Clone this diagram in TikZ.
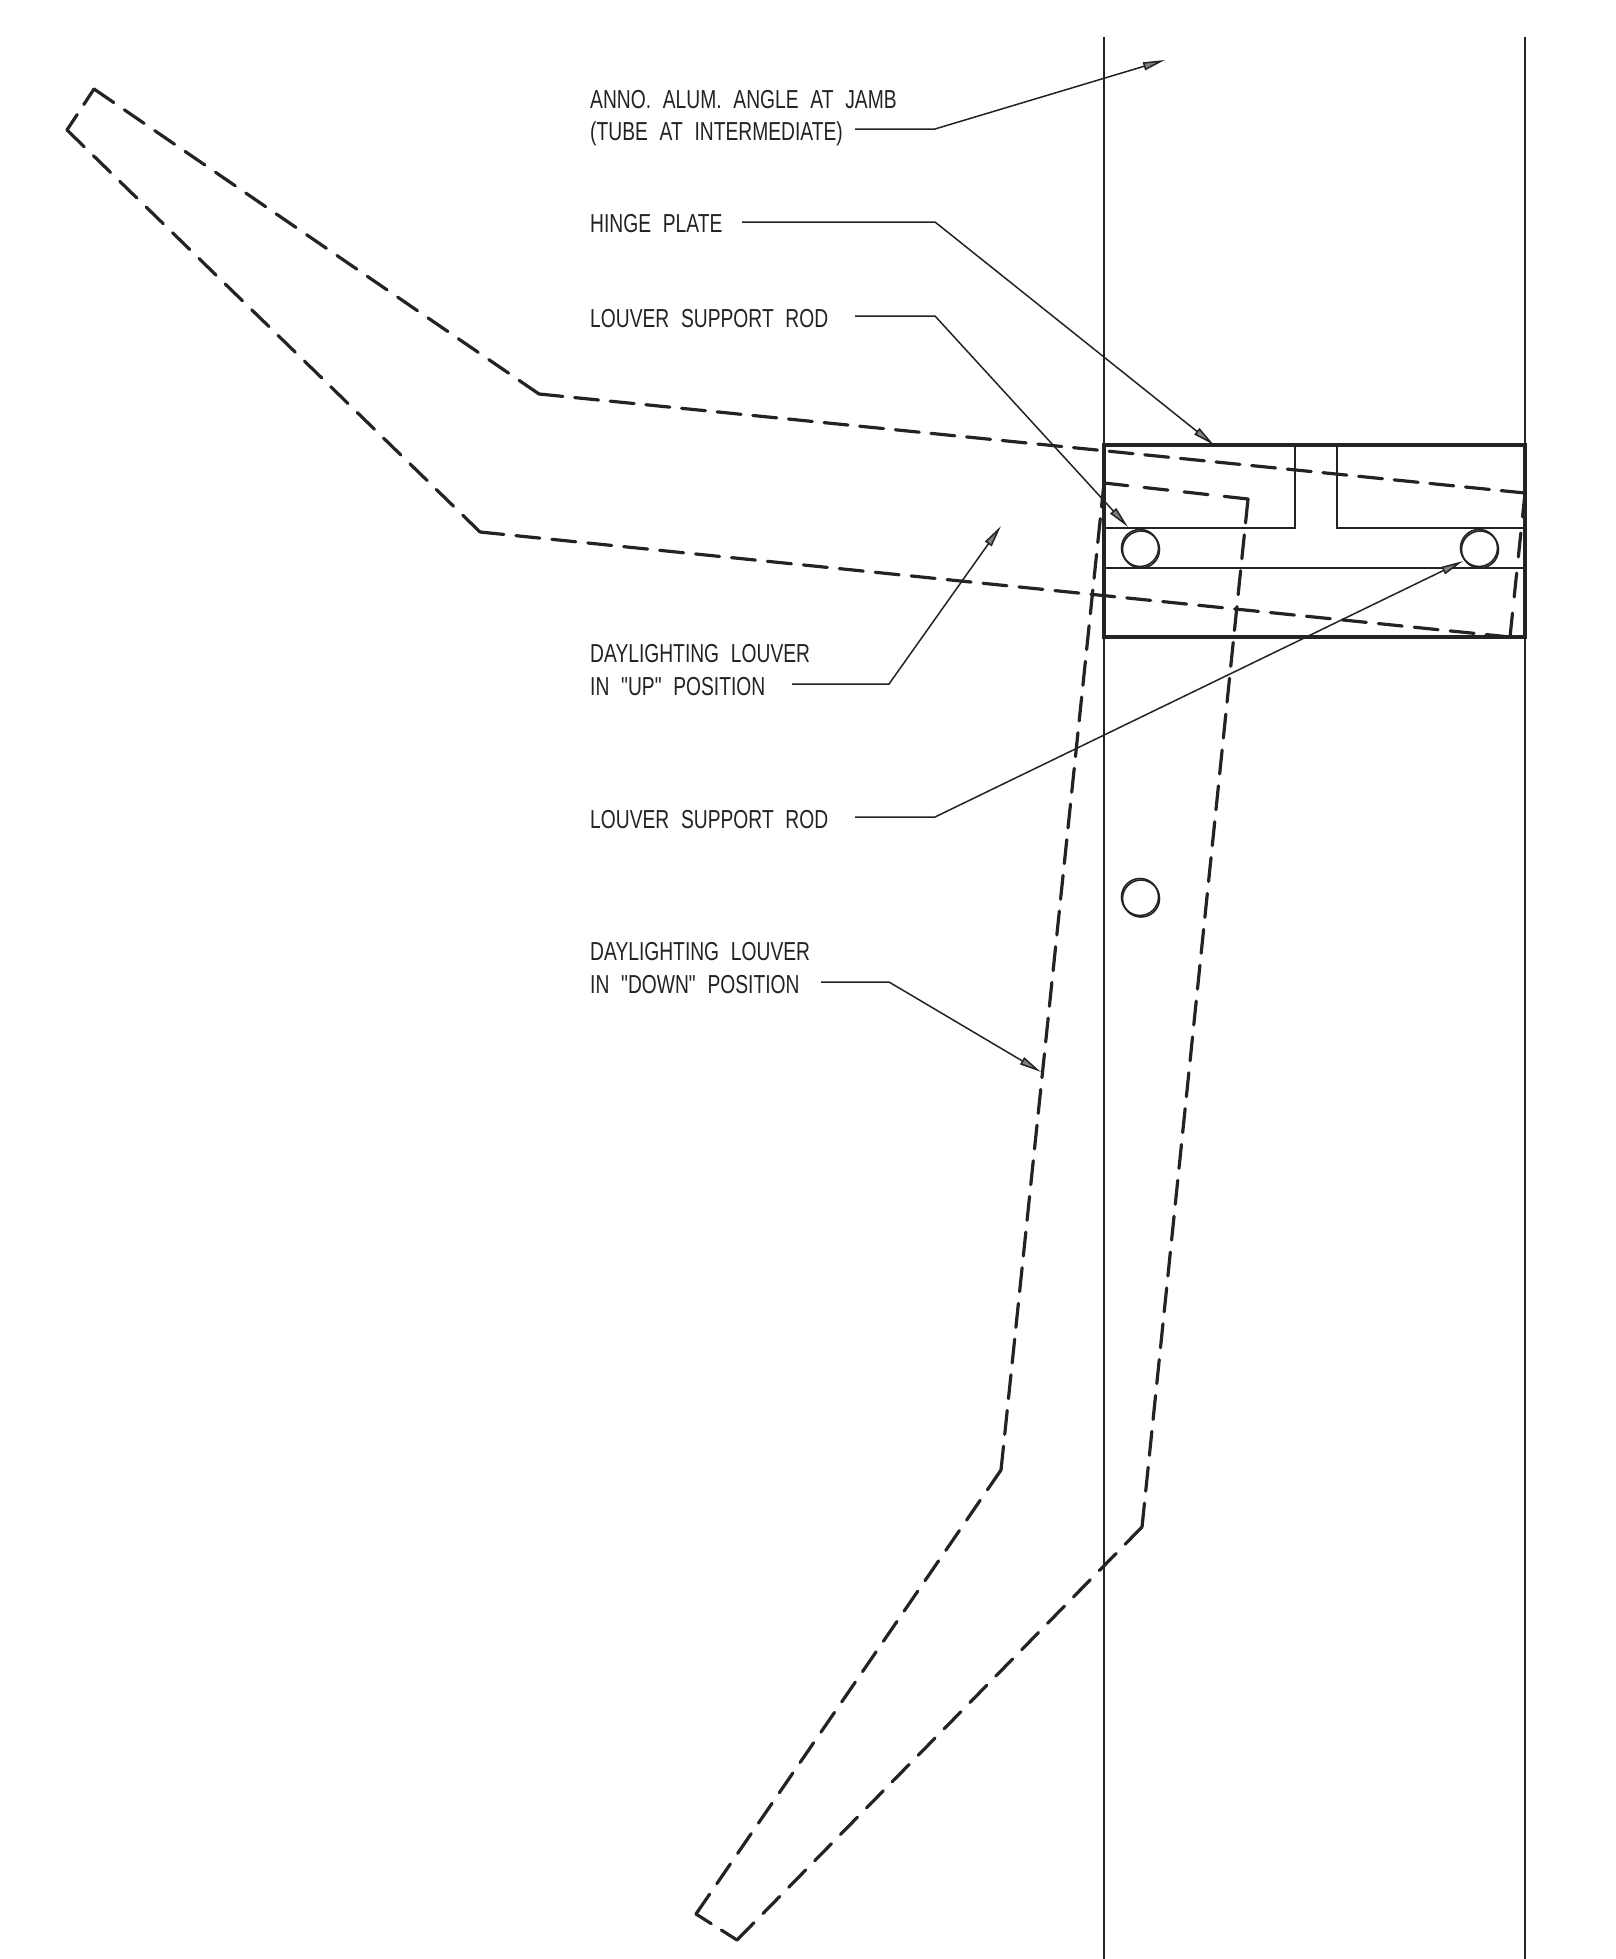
\documentclass[tikz,border=0pt]{standalone}
\usepackage{fontspec}
\usetikzlibrary{arrows.meta,calc}
\newfontfamily\lblfont[FakeStretch=0.74,WordSpace=2.2]{Liberation Sans}
\definecolor{ink}{RGB}{35,35,35}
\tikzset{
  thinline/.style={draw=ink,line width=1.4pt},
  boxline/.style={draw=ink,line width=3.6pt,line join=miter},
  louver/.style={draw=ink,line width=3.2pt,line cap=round,line join=round},
  shortedge/.style={louver,dash pattern=on 18.5pt off 12pt},
  leader/.style={draw=ink,line width=1.5pt,-{Triangle[length=22pt,width=8pt,fill=gray]}},
  callout/.style={font=\lblfont\fontsize{26}{32}\selectfont,text=ink,anchor=base west,inner sep=0pt,align=left},
  rod/.style={circle,draw=ink,line width=1.6pt,minimum size=37pt,inner sep=0pt,fill=none}
}
% dashed edge whose dashes begin and end on its two corners
\newcommand{\louveredge}[2]{%
  \draw[louver] let \p1=($(#2)-(#1)$), \n1={veclen(\x1,\y1)},
    \n2={max(2,round((\n1+12)/36))}, \n3={(\n1-\n2*24)/(\n2-1)}
    in [dash pattern=on 24pt off \n3] (#1) -- (#2);}
\begin{document}
\begin{tikzpicture}[x=1pt,y=-1pt]
\useasboundingbox[fill=white] (0,0) rectangle (1616,1959);
% jamb lines
\draw[thinline] (1104,37) -- (1104,1959);
\draw[thinline] (1525,37) -- (1525,1959);
% hinge plate
\draw[boxline] (1104,445) rectangle (1525,637);
\draw[thinline] (1104,528) -- (1295,528) -- (1295,445);
\draw[thinline] (1525,528) -- (1337,528) -- (1337,445);
\draw[thinline] (1104,568) -- (1525,568);
% rods
\node[rod] (rodL) at (1140,548) {};
\node[rod] (rodLb) at (1141,549.5) {};
\node[rod] (rodR) at (1479,548) {};
\node[rod] (rodRb) at (1480,549.5) {};
\node[rod] (rodM) at (1140,897) {};
\node[rod] (rodMb) at (1141,898.5) {};
% louver corners
\coordinate (u1) at (94,89);   \coordinate (u2) at (539,394);
\coordinate (u3) at (1525,493); \coordinate (u4) at (1510,637);
\coordinate (u5) at (480,532); \coordinate (u6) at (67,130);
\coordinate (d1) at (1104,483); \coordinate (d2) at (1248,499);
\coordinate (d3) at (1142,1527); \coordinate (d4) at (737,1940);
\coordinate (d5) at (696,1914); \coordinate (d6) at (1001,1470);
% up position
\louveredge{u1}{u2}
\louveredge{u2}{u3}
\louveredge{u3}{u4}
\louveredge{u5}{u4}
\louveredge{u6}{u5}
\draw[shortedge] (u6) -- (u1);
% down position
\louveredge{d1}{d2}
\louveredge{d2}{d3}
\louveredge{d3}{d4}
\draw[shortedge] (d4) -- (d5);
\louveredge{d5}{d6}
\louveredge{d6}{d1}
% labels
\node[callout] (t1) at (590,108) {ANNO. ALUM. ANGLE AT JAMB};
\node[callout] (t1b) at (590,140) {(TUBE AT INTERMEDIATE)};
\node[callout] (t2) at (590,232) {HINGE PLATE};
\node[callout] (t3) at (590,327) {LOUVER SUPPORT ROD};
\node[callout] (t4) at (590,662) {DAYLIGHTING LOUVER};
\node[callout] (t4b) at (590,695) {IN "UP" POSITION};
\node[callout] (t5) at (590,828) {LOUVER SUPPORT ROD};
\node[callout] (t6) at (590,960) {DAYLIGHTING LOUVER};
\node[callout] (t6b) at (590,993) {IN "DOWN" POSITION};
% leaders
\coordinate (s1) at (855,129); \coordinate (e1) at (935,129); \coordinate (a1) at (1165,60);
\coordinate (s2) at (742,222); \coordinate (e2) at (935,222); \coordinate (a2) at (1214,445);
\coordinate (s3) at (855,316); \coordinate (e3) at (935,316); \coordinate (a3) at (1128,527);
\coordinate (s4) at (792,684); \coordinate (e4) at (889,684); \coordinate (a4) at (1001,526);
\coordinate (s5) at (855,817); \coordinate (e5) at (935,817); \coordinate (a5) at (1463,561);
\coordinate (s6) at (821,982); \coordinate (e6) at (889,982); \coordinate (a6) at (1041,1072);
\draw[leader] (s1) -- (e1) -- (a1);
\draw[leader] (s2) -- (e2) -- (a2);
\draw[leader] (s3) -- (e3) -- (a3);
\draw[leader] (s4) -- (e4) -- (a4);
\draw[leader] (s5) -- (e5) -- (a5);
\draw[leader] (s6) -- (e6) -- (a6);
\end{tikzpicture}
\end{document}
